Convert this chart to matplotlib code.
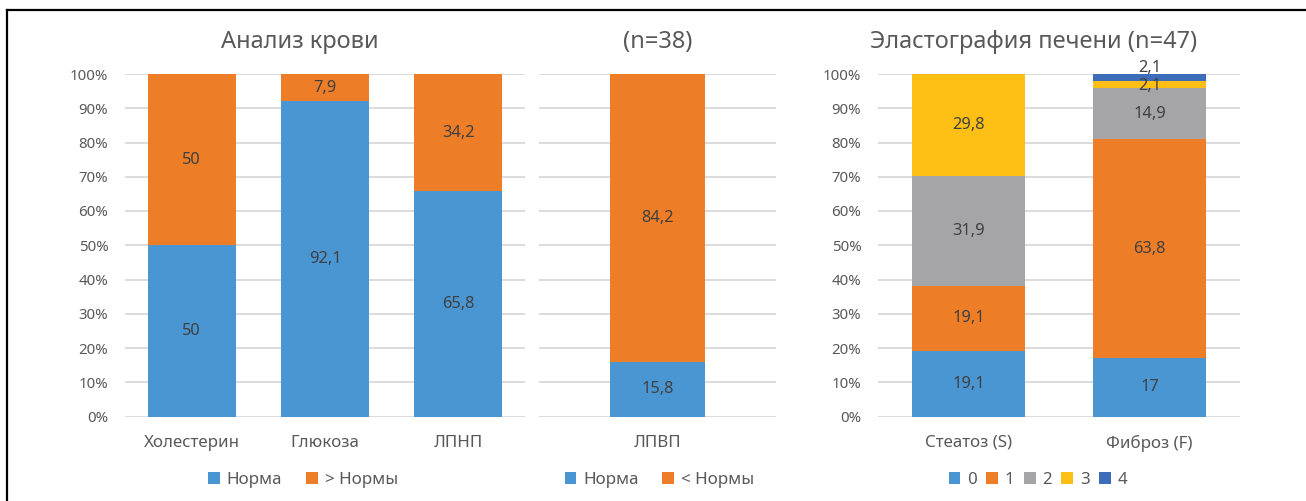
import matplotlib
matplotlib.use("Agg")
import matplotlib.pyplot as plt
from matplotlib.lines import Line2D
from matplotlib.patches import Patch
import numpy as np

plt.rcParams['font.family'] = ['Noto Sans', 'DejaVu Sans']

# ---------- data ----------
blood_titles = "Анализ крови"
blood_categories = ["Холестерин", "Глюкоза", "ЛПНП"]
blood_norm = [50, 92.1, 65.8]
blood_above = [50, 7.9, 34.2]
blood_legend = ["Норма", "> Нормы"]

hdl_title = "(n=38)"
hdl_categories = ["ЛПВП"]
hdl_norm = [15.8]
hdl_below = [84.2]
hdl_legend = ["Норма", "< Нормы"]

elasto_title = "Эластография печени (n=47)"
elasto_categories = ["Стеатоз (S)", "Фиброз (F)"]
elasto_grades = ["0", "1", "2", "3", "4"]
elasto_g0 = [19.1, 17]
elasto_g1 = [19.1, 63.8]
elasto_g2 = [31.9, 14.9]
elasto_g3 = [29.8, 2.1]
elasto_g4 = [0, 2.1]

ytick_labels = ["0%", "10%", "20%", "30%", "40%", "50%", "60%", "70%", "80%", "90%", "100%"]

# ---------- style ----------
BLUE = "#4A96D2"
ORANGE = "#ED7D27"
GRAY = "#A5A5A8"
GOLD = "#FDBF14"
DBLUE = "#3D6DB8"
GRID = "#D9D9D9"
TXT = "#595959"
LBL = "#404040"

W, H = 1306, 501
fig = plt.figure(figsize=(W / 100, H / 100), dpi=100)

y0_px, y100_px = 416.5, 74
bottom = (H - y0_px) / H
height = (y0_px - y100_px) / H

def make_ax(x0, x1):
    return fig.add_axes([x0 / W, bottom, (x1 - x0) / W, height])

def style_ax(ax, ncat, show_y):
    ax.set_ylim(0, 100)
    ax.set_xlim(-0.5, ncat - 0.5)
    for s in ax.spines.values():
        s.set_visible(False)
    ax.set_yticks(np.arange(0, 101, 10))
    ax.yaxis.grid(True, color=GRID, linewidth=1.3)
    ax.set_axisbelow(True)
    ax.tick_params(axis='both', length=0)
    ax.tick_params(axis='x', pad=13, labelsize=12.2, labelcolor=TXT)
    ax.tick_params(axis='y', pad=12, labelsize=10.8, labelcolor=TXT)
    if show_y:
        ax.set_yticklabels(ytick_labels)
    else:
        ax.set_yticklabels([])

def stack(ax, cats, series, colors, width, offsets=None):
    x = np.arange(len(cats))
    base = np.zeros(len(cats))
    tot = np.sum(series, axis=0)
    for si, (vals, c) in enumerate(zip(series, colors)):
        vals = np.array(vals, dtype=float)
        h = vals / tot * 100
        ax.bar(x, h, width, bottom=base, color=c, linewidth=0)
        for i, v in enumerate(vals):
            if v <= 0:
                continue
            yc = base[i] + h[i] / 2
            dy = 0
            if offsets and (si, i) in offsets:
                dy = offsets[(si, i)]
            txt = ("%g" % v).replace(".", ",")
            ax.annotate(txt, (x[i], yc), xytext=(0, dy), textcoords='offset points',
                        ha='center', va='center', fontsize=11.8, color=LBL)
        base = base + h
    ax.set_xticks(x)
    ax.set_xticklabels(cats)

def legend(ax, labels, colors, spacing, shift_px):
    handles = [Patch(facecolor=c, edgecolor='none') for c in colors]
    bb = ax.get_position()
    cx = (bb.x0 + bb.x1) / 2 + shift_px / W
    cy = (H - 480) / H
    leg = fig.legend(handles, labels, loc='center', bbox_to_anchor=(cx, cy),
                     bbox_transform=fig.transFigure,
                     ncol=len(labels), frameon=False, fontsize=12.2,
                     handlelength=0.7, handleheight=0.7, handletextpad=0.4,
                     columnspacing=spacing, borderpad=0, borderaxespad=0)
    for t in leg.get_texts():
        t.set_color(TXT)

def title(ax, text, shift_px):
    bb = ax.get_position()
    cx = (bb.x0 + bb.x1) / 2 + shift_px / W
    fig.text(cx, (H - 42) / H, text, ha='center', va='center', fontsize=17, color=TXT)

# panel 1
ax1 = make_ax(125, 525)
style_ax(ax1, 3, True)
stack(ax1, blood_categories, [blood_norm, blood_above], [BLUE, ORANGE], 0.66)
legend(ax1, blood_legend, [BLUE, ORANGE], 1.4, -22)
title(ax1, blood_titles, -25)

# panel 2
ax2 = make_ax(539, 776)
style_ax(ax2, 1, False)
stack(ax2, hdl_categories, [hdl_norm, hdl_below], [BLUE, ORANGE], 0.4)
legend(ax2, hdl_legend, [BLUE, ORANGE], 1.4, 2)
title(ax2, hdl_title, 0)

# panel 3
ax3 = make_ax(878, 1240)
style_ax(ax3, 2, True)
stack(ax3, elasto_categories, [elasto_g0, elasto_g1, elasto_g2, elasto_g3, elasto_g4],
      [BLUE, ORANGE, GRAY, GOLD, DBLUE], 0.62,
      offsets={(4, 1): 7, (3, 1): -1})
legend(ax3, elasto_grades, [BLUE, ORANGE, GRAY, GOLD, DBLUE], 0.55, -21)
title(ax3, elasto_title, -25)

# outer frame (left and top edges)
fig.add_artist(Line2D([7 / W, 7 / W], [0, 1 - 9.5 / H], transform=fig.transFigure,
                      color='black', linewidth=1.6))
fig.add_artist(Line2D([7 / W, 1], [1 - 9.5 / H, 1 - 9.5 / H], transform=fig.transFigure,
                      color='black', linewidth=1.6))

fig.savefig("out.png", dpi=100, facecolor='white')
